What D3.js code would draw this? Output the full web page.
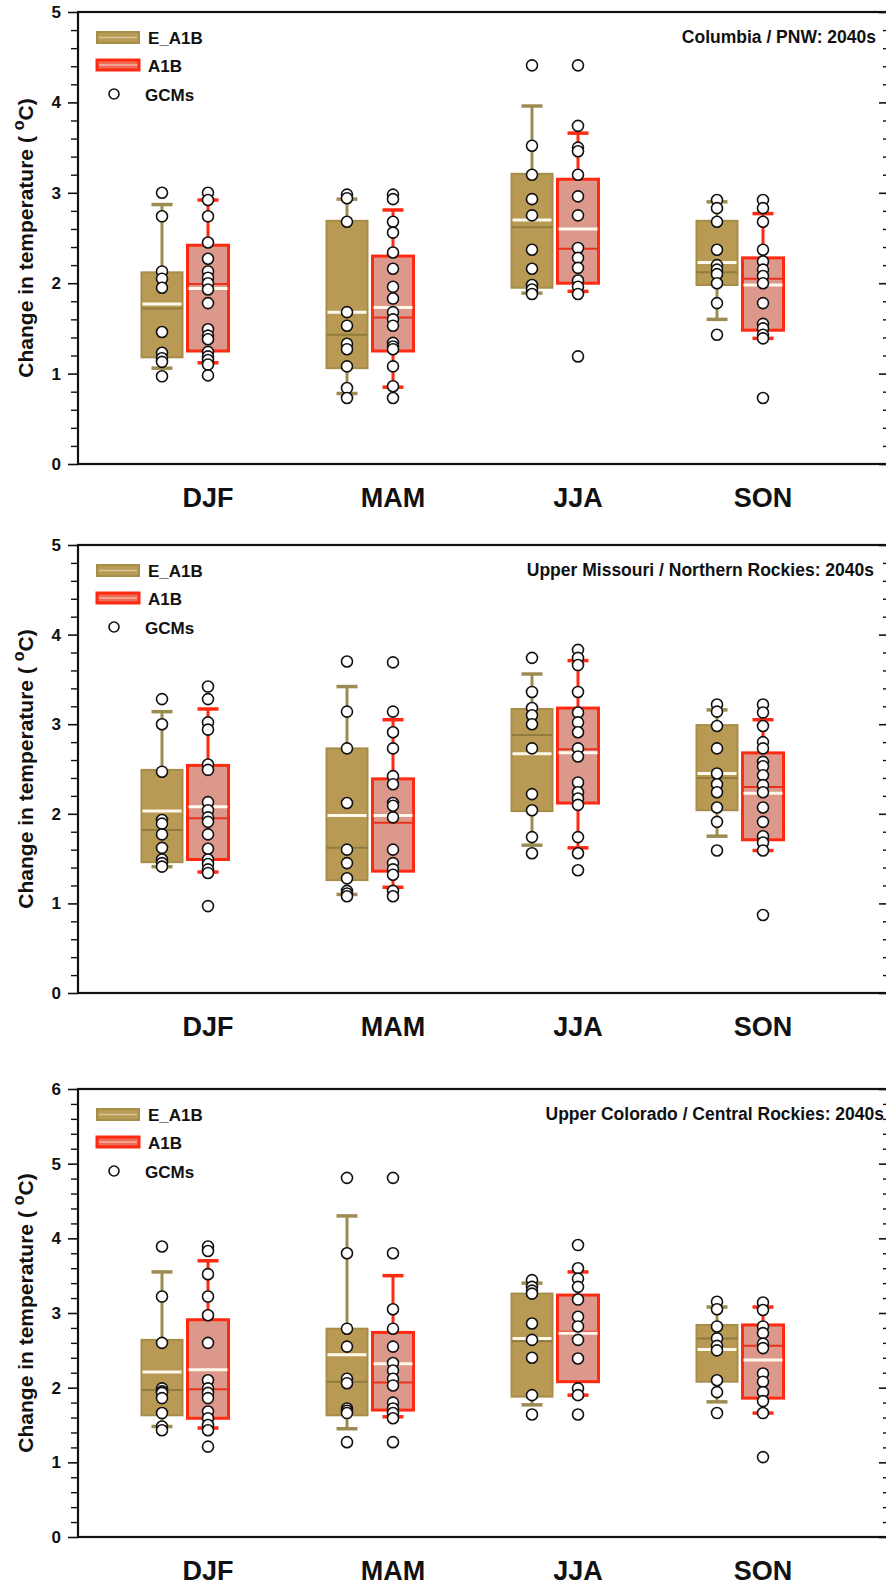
<!DOCTYPE html>
<html>
<head>
<meta charset="utf-8">
<script src="https://cdn.jsdelivr.net/npm/d3@7"></script>
<style>
  html, body { margin: 0; padding: 0; background: #fff; }
  svg { display: block; font-family: "Liberation Sans", Arial, Helvetica, sans-serif; }
</style>
</head>
<body>
<svg id="fig" width="886" height="1589"></svg>
<script>
// Seasons, scenarios and regions
const seasons = ["DJF", "MAM", "JJA", "SON"];
const scenarios = ["E_A1B", "A1B"];
const regionTitles = [
  "Columbia / PNW: 2040s",
  "Upper Missouri / Northern Rockies: 2040s",
  "Upper Colorado / Central Rockies: 2040s"
];
const yMaxima = [5, 5, 6];

// Box statistics per season: [p10, p25, median, mean, p75, p90] (deg C)
const pnwEStats = [[1.06, 1.18, 1.72, 1.77, 2.12, 2.87], [0.78, 1.06, 1.43, 1.68, 2.69, 2.93], [1.89, 1.95, 2.62, 2.70, 3.21, 3.96], [1.60, 1.98, 2.12, 2.23, 2.69, 2.90]];
const pnwAStats = [[1.12, 1.25, 1.99, 1.94, 2.42, 2.92], [0.85, 1.25, 1.62, 1.73, 2.30, 2.81], [1.91, 2.00, 2.38, 2.60, 3.15, 3.66], [1.39, 1.48, 2.05, 1.98, 2.28, 2.77]];
const umrEStats = [[1.41, 1.46, 1.82, 2.03, 2.49, 3.14], [1.10, 1.26, 1.62, 1.98, 2.73, 3.42], [1.65, 2.03, 2.88, 2.67, 3.17, 3.56], [1.75, 2.04, 2.40, 2.45, 2.99, 3.16]];
const umrAStats = [[1.35, 1.49, 1.95, 2.08, 2.54, 3.17], [1.18, 1.36, 1.90, 1.98, 2.39, 3.05], [1.62, 2.12, 2.72, 2.68, 3.18, 3.71], [1.59, 1.71, 2.30, 2.23, 2.68, 3.05]];
const ucrEStats = [[1.48, 1.63, 1.97, 2.21, 2.64, 3.55], [1.45, 1.63, 2.08, 2.44, 2.79, 4.30], [1.77, 1.88, 2.62, 2.66, 3.26, 3.40], [1.81, 2.08, 2.66, 2.51, 2.84, 3.08]];
const ucrAStats = [[1.46, 1.59, 1.98, 2.24, 2.91, 3.70], [1.61, 1.70, 2.07, 2.32, 2.74, 3.50], [1.90, 2.08, 2.75, 2.73, 3.24, 3.55], [1.66, 1.86, 2.56, 2.37, 2.84, 3.08]];

// Individual GCM changes per season (deg C)
const pnwEGcms = [
  [3.00, 2.74, 2.13, 2.05, 1.95, 1.46, 1.23, 1.17, 1.13, 0.97],
  [2.98, 2.94, 2.68, 1.68, 1.53, 1.33, 1.27, 1.08, 0.84, 0.73],
  [4.41, 3.52, 3.20, 2.93, 2.75, 2.37, 2.16, 1.98, 1.93, 1.88],
  [2.92, 2.83, 2.68, 2.37, 2.20, 2.15, 2.10, 2.00, 1.78, 1.43]
];
const pnwAGcms = [
  [3.00, 2.92, 2.74, 2.45, 2.27, 2.13, 2.06, 2.00, 1.93, 1.78, 1.49, 1.42, 1.38, 1.24, 1.19, 1.15, 1.10, 0.98],
  [2.98, 2.93, 2.68, 2.56, 2.34, 2.16, 1.96, 1.83, 1.68, 1.60, 1.53, 1.34, 1.30, 1.27, 1.08, 0.86, 0.73],
  [4.41, 3.74, 3.50, 3.46, 3.20, 2.96, 2.75, 2.39, 2.28, 2.17, 2.03, 1.96, 1.88, 1.19],
  [2.92, 2.83, 2.68, 2.37, 2.24, 2.15, 2.08, 2.00, 1.78, 1.55, 1.50, 1.43, 1.39, 0.73]
];
const umrEGcms = [
  [3.28, 3.00, 2.47, 1.93, 1.89, 1.77, 1.62, 1.49, 1.45, 1.41],
  [3.70, 3.14, 2.73, 2.12, 1.60, 1.45, 1.28, 1.14, 1.11, 1.08],
  [3.74, 3.36, 3.18, 3.10, 3.00, 2.73, 2.22, 2.04, 1.74, 1.56],
  [3.22, 3.14, 2.98, 2.73, 2.45, 2.33, 2.24, 2.07, 1.91, 1.59]
];
const umrAGcms = [
  [3.42, 3.28, 3.02, 2.94, 2.55, 2.49, 2.13, 2.04, 1.96, 1.91, 1.77, 1.61, 1.49, 1.44, 1.38, 1.34, 0.97],
  [3.69, 3.14, 2.91, 2.73, 2.42, 2.33, 2.12, 2.09, 1.96, 1.60, 1.45, 1.38, 1.32, 1.14, 1.08],
  [3.83, 3.74, 3.66, 3.36, 3.13, 3.02, 2.91, 2.73, 2.64, 2.35, 2.24, 2.17, 2.10, 1.74, 1.56, 1.37],
  [3.22, 3.13, 2.98, 2.80, 2.73, 2.58, 2.53, 2.43, 2.32, 2.24, 2.07, 1.91, 1.75, 1.68, 1.59, 0.87]
];
const ucrEGcms = [
  [3.89, 3.22, 2.60, 1.99, 1.95, 1.93, 1.86, 1.66, 1.48, 1.43],
  [4.81, 3.80, 2.79, 2.55, 2.12, 2.06, 1.72, 1.69, 1.66, 1.27],
  [3.44, 3.35, 3.30, 3.26, 2.86, 2.64, 2.40, 1.90, 1.64],
  [3.15, 3.05, 2.82, 2.66, 2.56, 2.50, 2.10, 1.94, 1.66]
];
const ucrAGcms = [
  [3.89, 3.83, 3.52, 3.22, 2.97, 2.60, 2.10, 1.99, 1.93, 1.86, 1.68, 1.59, 1.50, 1.43, 1.21],
  [4.81, 3.80, 3.05, 2.79, 2.55, 2.33, 2.23, 2.12, 2.03, 1.80, 1.72, 1.66, 1.59, 1.27],
  [3.91, 3.60, 3.46, 3.35, 3.18, 2.95, 2.82, 2.64, 2.39, 1.99, 1.90, 1.64],
  [3.14, 3.04, 2.82, 2.73, 2.59, 2.53, 2.19, 2.08, 1.94, 1.82, 1.66, 1.07]
];

// Assemble the three panels from the named arrays
const panels = [
  { title: regionTitles[0], yMax: yMaxima[0], stats: [pnwEStats, pnwAStats], gcms: [pnwEGcms, pnwAGcms] },
  { title: regionTitles[1], yMax: yMaxima[1], stats: [umrEStats, umrAStats], gcms: [umrEGcms, umrAGcms] },
  { title: regionTitles[2], yMax: yMaxima[2], stats: [ucrEStats, ucrAStats], gcms: [ucrEGcms, ucrAGcms] }
];

// Layout
const layout = [
  { top: 12, bottom: 464, titleX: 876, titleSize: 17.5 },
  { top: 545, bottom: 993, titleX: 874, titleSize: 17.5 },
  { top: 1089, bottom: 1537, titleX: 884, titleSize: 17.5 }
];
const left = 78, right = 888;
const boxW = 41, capW = 21, offset = 23;
const style = [
  { fill: "#b99a55", stroke: "#a68d4a", whisker: "#9d8c52", median: "#8f7b3e", strokeW: 2 },
  { fill: "#dc998b", stroke: "#ff2a12", whisker: "#ff2a12", median: "#e8321e", strokeW: 3 }
];

const svg = d3.select("#fig");
const x = d3.scalePoint().domain(seasons).range([185, 740]);

panels.forEach((p, pi) => {
  const L = layout[pi];
  const y = d3.scaleLinear().domain([0, p.yMax]).range([L.bottom, L.top]);
  const g = svg.append("g");

  const majors = d3.range(0, p.yMax + 0.001, 1);
  const minors = d3.range(0, p.yMax + 0.001, 0.2).filter(v => Math.abs(v - Math.round(v)) > 1e-6);

  // Left axis: outward ticks with labels, minor ticks between
  const la = g.append("g").attr("transform", `translate(${left},0)`)
    .call(d3.axisLeft(y).tickValues(majors).tickSize(10).tickPadding(7).tickFormat(d3.format("d")));
  la.select(".domain").remove();
  la.selectAll("line").attr("stroke", "#111").attr("stroke-width", 1.6);
  la.selectAll("text").attr("font-size", 17).attr("font-weight", "bold").attr("fill", "#111");
  const lm = g.append("g").attr("transform", `translate(${left},0)`)
    .call(d3.axisLeft(y).tickValues(minors).tickSize(7).tickFormat(""));
  lm.select(".domain").remove();
  lm.selectAll("line").attr("stroke", "#111").attr("stroke-width", 1.4);

  // Right axis: inward ticks
  const ra = g.append("g").attr("transform", `translate(${right},0)`)
    .call(d3.axisRight(y).tickValues(majors).tickSize(-9).tickFormat(""));
  ra.select(".domain").remove();
  ra.selectAll("line").attr("stroke", "#111").attr("stroke-width", 1.6);
  const rm = g.append("g").attr("transform", `translate(${right},0)`)
    .call(d3.axisRight(y).tickValues(minors).tickSize(-5).tickFormat(""));
  rm.select(".domain").remove();
  rm.selectAll("line").attr("stroke", "#111").attr("stroke-width", 1.4);

  // Frame
  g.append("rect").attr("x", left).attr("y", L.top)
    .attr("width", right - left).attr("height", L.bottom - L.top)
    .attr("fill", "none").attr("stroke", "#111").attr("stroke-width", 2.2);

  // Y title
  const yt = g.append("text")
    .attr("transform", `translate(33,${(L.top + L.bottom) / 2}) rotate(-90)`)
    .attr("text-anchor", "middle").attr("font-size", 21).attr("font-weight", "bold").attr("fill", "#111");
  yt.append("tspan").text("Change in temperature ( ");
  yt.append("tspan").attr("font-size", 16).attr("dy", -9).text("o");
  yt.append("tspan").attr("dy", 9).text("C)");

  // Season labels
  g.selectAll(".season").data(seasons).enter().append("text")
    .attr("x", d => x(d) + offset).attr("y", L.bottom + 43)
    .attr("text-anchor", "middle").attr("font-size", 27).attr("font-weight", "bold").attr("fill", "#111")
    .text(d => d);

  // Region title
  g.append("text").attr("x", L.titleX).attr("y", L.top + 31)
    .attr("text-anchor", "end").attr("font-size", L.titleSize).attr("font-weight", "bold").attr("fill", "#111")
    .text(p.title);

  // Boxes, whiskers, mean and median lines
  scenarios.forEach((sc, si) => {
    const s = style[si];
    const dx = si === 0 ? -offset : offset;
    seasons.forEach((se, k) => {
      const [p10, p25, med, mean, p75, p90] = p.stats[si][k];
      const cx = x(se) + dx;
      const bg = g.append("g");
      bg.append("line").attr("x1", cx).attr("x2", cx).attr("y1", y(p90)).attr("y2", y(p75))
        .attr("stroke", s.whisker).attr("stroke-width", 3);
      bg.append("line").attr("x1", cx).attr("x2", cx).attr("y1", y(p25)).attr("y2", y(p10))
        .attr("stroke", s.whisker).attr("stroke-width", 3);
      [p90, p10].forEach(v => bg.append("line")
        .attr("x1", cx - capW / 2).attr("x2", cx + capW / 2).attr("y1", y(v)).attr("y2", y(v))
        .attr("stroke", s.whisker).attr("stroke-width", 3.5));
      bg.append("rect").attr("x", cx - boxW / 2).attr("y", y(p75))
        .attr("width", boxW).attr("height", y(p25) - y(p75))
        .attr("fill", s.fill).attr("stroke", s.stroke).attr("stroke-width", s.strokeW);
      bg.append("line").attr("x1", cx - boxW / 2).attr("x2", cx + boxW / 2).attr("y1", y(med)).attr("y2", y(med))
        .attr("stroke", s.median).attr("stroke-width", 2);
      bg.append("line").attr("x1", cx - boxW / 2 + 1).attr("x2", cx + boxW / 2 - 1).attr("y1", y(mean)).attr("y2", y(mean))
        .attr("stroke", "#fff8ec").attr("stroke-width", 3);
    });
  });

  // GCM points
  scenarios.forEach((sc, si) => {
    const dx = si === 0 ? -offset : offset;
    seasons.forEach((se, k) => {
      g.append("g").selectAll("circle").data(p.gcms[si][k]).enter().append("circle")
        .attr("cx", x(se) + dx).attr("cy", d => y(d)).attr("r", 5.5)
        .attr("fill", "#fff").attr("stroke", "#111").attr("stroke-width", 1.6);
    });
  });

  // Legend
  const lg = g.append("g").attr("transform", `translate(0,${L.top})`);
  lg.append("rect").attr("x", 97).attr("y", 20).attr("width", 42).attr("height", 11)
    .attr("fill", style[0].fill).attr("stroke", style[0].stroke).attr("stroke-width", 2);
  lg.append("line").attr("x1", 99).attr("x2", 137).attr("y1", 25.5).attr("y2", 25.5)
    .attr("stroke", "#d7c79b").attr("stroke-width", 1.5);
  lg.append("rect").attr("x", 97).attr("y", 48).attr("width", 42).attr("height", 10)
    .attr("fill", "#f26a55").attr("stroke", style[1].stroke).attr("stroke-width", 3);
  lg.append("line").attr("x1", 99).attr("x2", 137).attr("y1", 53).attr("y2", 53)
    .attr("stroke", "#f7b7a8").attr("stroke-width", 1.5);
  lg.append("circle").attr("cx", 114).attr("cy", 82).attr("r", 5)
    .attr("fill", "#fff").attr("stroke", "#111").attr("stroke-width", 1.6);
  const legendLabels = [scenarios[0], scenarios[1], "GCMs"];
  [31.5, 59.5, 88.5].forEach((ty, i) => {
    lg.append("text").attr("x", i === 2 ? 145 : 148).attr("y", ty)
      .attr("font-size", 17).attr("font-weight", "bold").attr("fill", "#111")
      .text(legendLabels[i]);
  });
});
</script>
</body>
</html>
